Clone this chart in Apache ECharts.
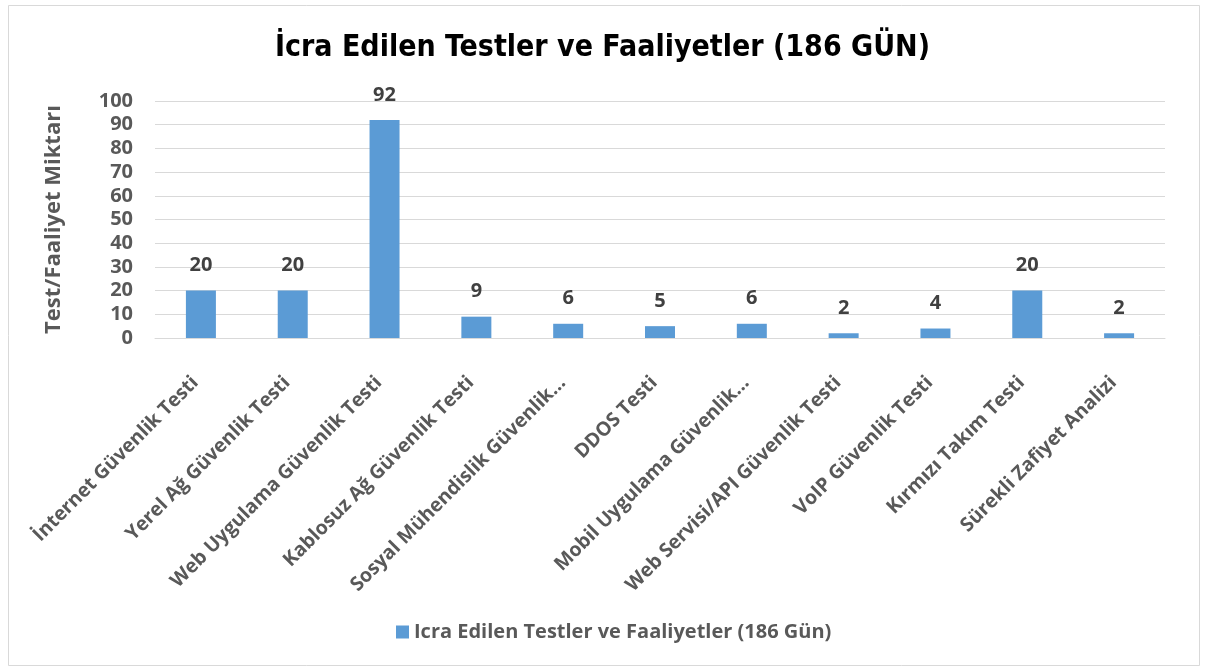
<!DOCTYPE html>
<html>
  <head>
    <meta charset="utf-8" />
    <title>İcra Edilen Testler ve Faaliyetler</title>
    <style>
      html, body { margin: 0; padding: 0; background: #fff; }
    </style>
  </head>
  <body>
    <script src="https://cdn.jsdelivr.net/npm/echarts@6/dist/echarts.min.js"></script>

    <div id="chart" style="width: 1205px; height: 670px"></div>

    <script>
      // values
      const categories = [
        'İnternet Güvenlik Testi',
        'Yerel Ağ Güvenlik Testi',
        'Web Uygulama Güvenlik Testi',
        'Kablosuz Ağ Güvenlik Testi',
        'Sosyal Mühendislik Güvenlik…',
        'DDOS Testi',
        'Mobil Uygulama Güvenlik…',
        'Web Servisi/API Güvenlik Testi',
        'VoIP Güvenlik Testi',
        'Kırmızı Takım Testi',
        'Sürekli Zafiyet Analizi',
      ];
      const counts = [20, 20, 92, 9, 6, 5, 6, 2, 4, 20, 2];
      const seriesName = 'Icra Edilen Testler ve Faaliyetler (186 Gün)';
      const titleText = 'İcra Edilen Testler ve Faaliyetler (186 GÜN)';
      const yAxisName = 'Test/Faaliyet Miktarı';

      const labelFont = '"Open Sans", "DejaVu Sans", sans-serif';

      let chart = echarts.init(document.getElementById('chart'), null, {
        width: 1205,
        height: 670,
      });

      let opts = {
        animation: false,
        backgroundColor: '#fff',
        graphic: [
          {
            type: 'rect',
            shape: { x: 8.5, y: 5.5, width: 1191, height: 660 },
            style: { fill: 'none', stroke: '#d9d9d9', lineWidth: 1 },
            silent: true,
          },
        ],
        title: {
          text: titleText,
          left: 'center',
          top: 28,
          textStyle: {
            fontFamily: '"Liberation Sans Narrow", "DejaVu Sans Condensed", sans-serif',
            fontWeight: 'bold',
            fontSize: 30,
            color: '#000',
          },
        },
        legend: {
          bottom: 23,
          left: 391,
          itemWidth: 13,
          itemHeight: 13,
          itemGap: 4,
          icon: 'rect',
          textStyle: {
            fontFamily: labelFont,
            fontWeight: 'bold',
            fontSize: 20,
            color: '#595959',
          },
        },
        grid: {
          left: 155,
          right: 40,
          top: 101,
          height: 237,
        },
        xAxis: {
          type: 'category',
          data: categories,
          axisLine: { lineStyle: { color: '#d9d9d9', width: 1 } },
          axisTick: { show: false },
          axisLabel: {
            rotate: 45,
            interval: 0,
            margin: 36,
            padding: [0, 8, 0, 0],
            fontFamily: labelFont,
            fontWeight: 'bold',
            fontSize: 19.5,
            color: '#595959',
          },
        },
        yAxis: {
          type: 'value',
          min: 0,
          max: 100,
          interval: 10,
          name: yAxisName,
          nameLocation: 'middle',
          nameGap: 90,
          nameRotate: 90,
          nameTextStyle: {
            fontFamily: labelFont,
            fontWeight: 'bold',
            fontSize: 22,
            color: '#595959',
          },
          axisLine: { show: false },
          axisTick: { show: false },
          axisLabel: {
            margin: 22,
            fontFamily: labelFont,
            fontWeight: 'bold',
            fontSize: 20,
            color: '#595959',
          },
          splitLine: { lineStyle: { color: '#d9d9d9', width: 1 } },
        },
        series: [
          {
            name: seriesName,
            type: 'bar',
            data: counts,
            barWidth: 30,
            itemStyle: { color: '#5b9bd5' },
            label: {
              show: true,
              position: 'top',
              distance: 15,
              fontFamily: labelFont,
              fontWeight: 'bold',
              fontSize: 20,
              color: '#404040',
            },
          },
        ],
      };

      chart.setOption(opts, { notMerge: true });
    </script>
  </body>
</html>
